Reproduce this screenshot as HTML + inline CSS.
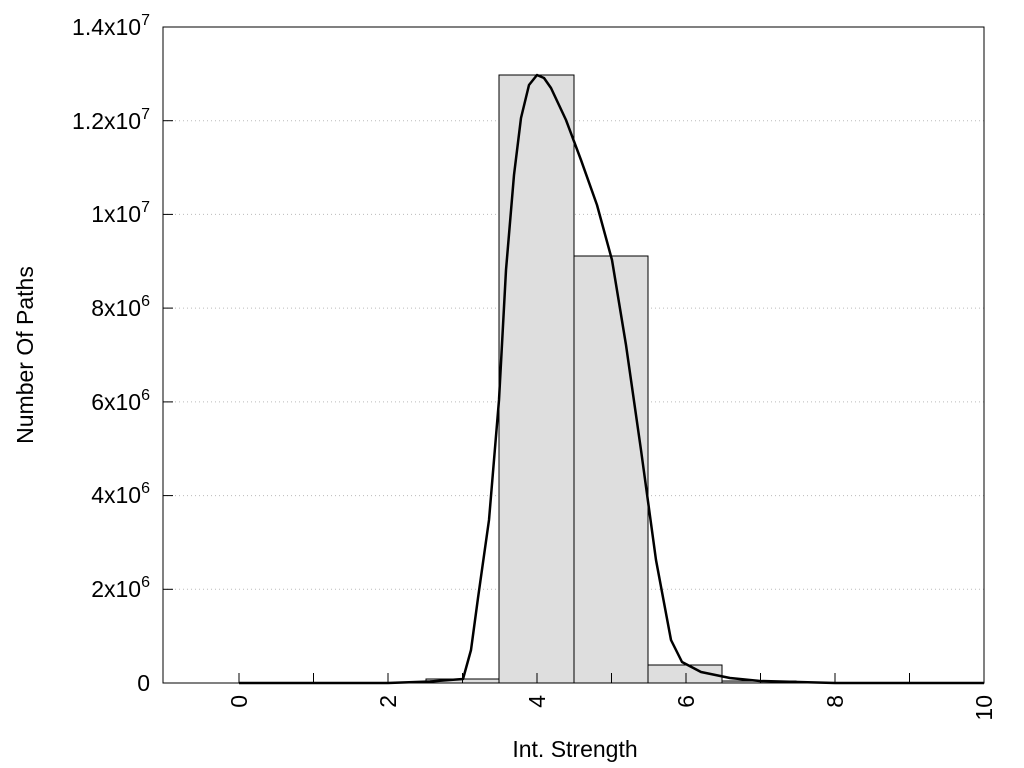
<!DOCTYPE html>
<html><head><style>body{margin:0;background:#fff}svg{display:block}text{font-family:"Liberation Sans",sans-serif;fill:#000}</style></head>
<body>
<svg width="1024" height="768" viewBox="0 0 1024 768">
<g stroke="#bbb" stroke-dasharray="1,3" stroke-width="1">
<line x1="163" x2="984" y1="589.3" y2="589.3"/><line x1="163" x2="984" y1="495.6" y2="495.6"/><line x1="163" x2="984" y1="401.9" y2="401.9"/><line x1="163" x2="984" y1="308.1" y2="308.1"/><line x1="163" x2="984" y1="214.4" y2="214.4"/><line x1="163" x2="984" y1="120.7" y2="120.7"/>
</g>
<g fill="#dedede" stroke="#000" stroke-width="1">
<rect x="426" y="679" width="73" height="4"/>
<rect x="499" y="75" width="75" height="608"/>
<rect x="574" y="256" width="74" height="427"/>
<rect x="648" y="665" width="74" height="18"/>
<rect x="722" y="681" width="74" height="2"/>
</g>
<g stroke="#000" stroke-width="1">
<line x1="239" y1="683" x2="239" y2="673"/><line x1="313.5" y1="683" x2="313.5" y2="673"/><line x1="388" y1="683" x2="388" y2="673"/><line x1="462.5" y1="683" x2="462.5" y2="673"/><line x1="537" y1="683" x2="537" y2="673"/><line x1="611.5" y1="683" x2="611.5" y2="673"/><line x1="686" y1="683" x2="686" y2="673"/><line x1="760.5" y1="683" x2="760.5" y2="673"/><line x1="835" y1="683" x2="835" y2="673"/><line x1="909.5" y1="683" x2="909.5" y2="673"/>
<line x1="163" x2="173" y1="589.3" y2="589.3"/><line x1="163" x2="173" y1="495.6" y2="495.6"/><line x1="163" x2="173" y1="401.9" y2="401.9"/><line x1="163" x2="173" y1="308.1" y2="308.1"/><line x1="163" x2="173" y1="214.4" y2="214.4"/><line x1="163" x2="173" y1="120.7" y2="120.7"/>
</g>
<rect x="163" y="27" width="821" height="656" fill="none" stroke="#000" stroke-width="1"/>
<path fill="none" stroke="#000" stroke-width="2.5" stroke-linejoin="round" d="M239,683 L388,683 L430,681.5 L463,679 L471,650 L478,598 L489,520 L499,400 L506,270 L514,175 L521,118 L529,85 L537,75 L544,78 L551,88 L566,120 L581,160 L597,205 L612,260 L626,345 L641,450 L656,560 L671,640 L682,662 L701,672 L730,678 L760,681 L835,683 L984,683"/>
<g font-size="23" text-anchor="end">
<text x="150" y="691">0</text>
<text x="150" y="597">2x10<tspan dy="-10" font-size="16">6</tspan></text>
<text x="150" y="503">4x10<tspan dy="-10" font-size="16">6</tspan></text>
<text x="150" y="410">6x10<tspan dy="-10" font-size="16">6</tspan></text>
<text x="150" y="316">8x10<tspan dy="-10" font-size="16">6</tspan></text>
<text x="150" y="222">1x10<tspan dy="-10" font-size="16">7</tspan></text>
<text x="150" y="129">1.2x10<tspan dy="-10" font-size="16">7</tspan></text>
<text x="150" y="35">1.4x10<tspan dy="-10" font-size="16">7</tspan></text>
</g>
<g font-size="23" text-anchor="end">
<text transform="translate(247,695) rotate(-90)">0</text>
<text transform="translate(396,695) rotate(-90)">2</text>
<text transform="translate(545,695) rotate(-90)">4</text>
<text transform="translate(694,695) rotate(-90)">6</text>
<text transform="translate(843,695) rotate(-90)">8</text>
<text transform="translate(992,695) rotate(-90)">10</text>
</g>
<text x="575" y="757" font-size="23" text-anchor="middle">Int. Strength</text>
<text transform="translate(33,355) rotate(-90)" font-size="23" text-anchor="middle">Number Of Paths</text>
</svg>
</body></html>
